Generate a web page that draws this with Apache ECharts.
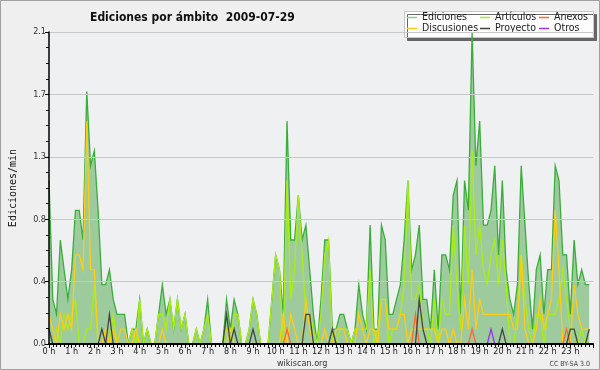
<!DOCTYPE html>
<html><head><meta charset="utf-8">
<script src="https://cdn.jsdelivr.net/npm/echarts@6/dist/echarts.min.js"></script>
<style>html,body{margin:0;padding:0;background:#efefef}#c{width:600px;height:370px}</style>
</head><body><div id="c"></div>
<script>
// one value per 10-minute bucket, 00:00 .. 23:50 (edits per minute)
const ediciones = [1.1,0.3,0.2,0.7,0.5,0.3,0.5,0.9,0.9,0.7,1.7,1.2,1.3,0.9,0.4,0.4,0.5,0.3,0.2,0.2,0.2,0,0.1,0.1,0.3,0,0.1,0,0,0.2,0.4,0.2,0.3,0.1,0.3,0.1,0.2,0,0,0.1,0,0.1,0.3,0,0,0,0,0.3,0.1,0.3,0.2,0,0,0.1,0.3,0.2,0,0,0,0.3,0.6,0.5,0.2,1.5,0.7,0.7,1.0,0.7,0.8,0.5,0.2,0,0.3,0.7,0.7,0.1,0.1,0.2,0.2,0.1,0,0.1,0.4,0.2,0.1,0.8,0.1,0.1,0.8,0.7,0.2,0.2,0.3,0.4,0.7,1.1,0.5,0.6,0.8,0.3,0.3,0.1,0.5,0.1,0.6,0.6,0.5,1.0,1.1,0.2,1.1,0.9,2.1,1.2,1.5,0.8,0.8,0.9,1.2,0.6,1.1,0.5,0.3,0.2,0.4,1.2,0.8,0.4,0.1,0.5,0.6,0.2,0.5,0.5,1.2,1.1,0.6,0.6,0.2,0.7,0.4,0.5,0.4,0.4];
const articulos = [0,0,0.1,0,0.2,0.1,0.2,0.3,0,0,0.1,0.1,0.4,0,0,0,0,0.2,0,0,0,0,0.1,0,0.3,0,0.1,0,0,0.2,0.2,0.1,0.3,0.1,0.3,0.1,0.2,0,0,0.1,0,0.1,0.2,0,0,0,0,0.1,0,0.2,0.2,0,0,0.1,0.3,0.2,0,0,0,0.3,0.6,0.5,0,1.1,0.3,0.5,1.0,0.6,0.2,0.2,0.1,0,0.2,0.6,0.7,0,0,0.1,0.1,0.1,0,0.1,0.1,0.1,0.1,0.5,0,0.1,0.3,0.3,0,0.1,0.1,0.2,0.4,1.1,0.3,0.3,0.4,0.1,0.1,0,0.3,0,0.3,0.2,0.2,0.8,0.4,0.1,0.8,0.4,1.3,0.6,0.8,0.5,0.4,0.6,0.7,0.4,0.7,0.4,0,0,0.2,0.6,0.3,0.1,0,0.2,0.2,0,0.2,0.2,0.2,0.3,0.5,0.3,0.1,0.1,0,0.1,0,0.1];
const anexos = [0,0,0,0,0,0,0,0,0,0,0,0,0,0,0,0,0,0,0,0,0,0,0,0,0,0,0,0,0,0,0,0,0,0,0,0,0,0,0,0,0,0,0,0,0,0,0,0,0,0,0,0,0,0,0,0,0,0,0,0,0,0,0,0.1,0,0,0,0,0,0,0,0,0,0,0,0,0,0,0,0,0,0,0,0,0,0,0,0,0,0,0,0,0,0,0,0,0,0.2,0,0,0,0,0,0,0,0,0,0,0,0,0,0,0.1,0,0,0,0,0,0,0,0,0,0,0,0,0,0,0,0,0,0,0,0,0,0,0,0,0.1,0,0,0,0,0,0];
const discusiones = [0.2,0.1,0,0.2,0.1,0.2,0.1,0.6,0.6,0.5,1.5,0.5,0.5,0,0,0.1,0,0.1,0,0.1,0.1,0,0,0.1,0,0,0,0,0,0,0.1,0,0,0,0,0,0,0,0,0,0,0,0,0,0,0,0,0,0.1,0,0,0,0,0,0,0,0,0,0,0,0,0,0.2,0,0.2,0.1,0,0,0.3,0.1,0,0,0,0.1,0,0,0.1,0.1,0.1,0,0,0,0.2,0.1,0,0.1,0.1,0,0.3,0.3,0.1,0.1,0.1,0.2,0.2,0,0.1,0.1,0.1,0.1,0.1,0.1,0.1,0,0.1,0.1,0,0.1,0,0,0.3,0.1,0.5,0.1,0.3,0.2,0.2,0.2,0.2,0.2,0.2,0.2,0.2,0.1,0.1,0.6,0.1,0,0,0.1,0.3,0.1,0.2,0.3,0.9,0.5,0,0,0,0.4,0.2,0.1,0.1,0.1];
const proyecto = [0.1,0,0,0,0,0,0,0,0,0,0,0,0,0,0.1,0,0.2,0,0,0,0,0,0,0,0,0,0,0,0,0,0,0,0,0,0,0,0,0,0,0,0,0,0,0,0,0,0,0.2,0,0.1,0,0,0,0,0.1,0,0,0,0,0,0,0,0,0,0,0,0,0,0.2,0.2,0,0,0,0,0,0.1,0,0,0,0,0,0,0,0,0,0,0,0,0,0,0,0,0,0,0,0,0,0,0.3,0.1,0,0,0,0,0,0,0,0,0,0,0,0,0,0,0,0,0,0,0,0,0.1,0,0,0,0,0,0,0,0,0,0,0,0,0,0,0,0,0,0.1,0.1,0,0,0,0.1];
const otros = [0,0,0,0,0,0,0,0,0,0,0,0,0,0,0,0,0,0,0,0,0,0,0,0,0,0,0,0,0,0,0,0,0,0,0,0,0,0,0,0,0,0,0,0,0,0,0,0,0,0,0,0,0,0,0,0,0,0,0,0,0,0,0,0,0,0,0,0,0,0,0,0,0,0,0,0,0,0,0,0,0,0,0,0,0,0,0,0,0,0,0,0,0,0,0,0,0,0,0,0,0,0,0,0,0,0,0,0,0,0,0,0,0,0,0,0,0,0.1,0,0,0,0,0,0,0,0,0,0,0,0,0,0,0,0,0,0,0,0,0,0,0,0,0,0];
const yTickLabels = ['0.0','0.4','0.8','1.3','1.7','2.1'];
const hourSuffix = ' h';
const titleText = 'Ediciones por ámbito  2009-07-29';

const STEP = 10; // minutes per bucket
const pairs = arr => arr.map((v, i) => [i * STEP, v]);

const FONT = 'DejaVu Sans Condensed, DejaVu Sans, sans-serif';
const chart = echarts.init(document.getElementById('c'), null, {renderer: 'canvas'});

const lineSeries = (name, data, color, z) => ({
  name, type: 'line', data: pairs(data), symbol: 'none', color,
  lineStyle: {color, width: 1.3, join: 'miter'}, z, animation: false
});

const legendText = {fontFamily: FONT, fontSize: 10.5, color: '#222', lineHeight: 10};
const legendBase = {orient: 'vertical', top: 12, padding: 0, itemGap: 0, itemWidth: 10, itemHeight: 1.5, icon: 'rect', textStyle: legendText};

chart.setOption({
  animation: false,
  backgroundColor: '#efefef',
  title: {text: titleText, left: 85, top: 7,
    textStyle: {fontFamily: FONT, fontSize: 12, fontWeight: 'bold', color: '#111'}},
  grid: {left: 47, right: 7, top: 32, bottom: 26, show: true, backgroundColor: '#eef0f2', borderWidth: 0},
  graphic: [
    {type: 'rect', shape: {x: 0.5, y: 0.5, width: 599, height: 369}, style: {fill: 'none', stroke: '#a0a0a0', lineWidth: 1}, z: 100, silent: true},
    {type: 'rect', shape: {x: 404.5, y: 11.5, width: 189, height: 26}, style: {fill: '#fdfdfd', stroke: '#c8c8c8', lineWidth: 1, shadowColor: '#666', shadowOffsetX: 3, shadowOffsetY: 3, shadowBlur: 0}, z: 1},
    {type: 'text', left: 277, top: 359, style: {text: 'wikiscan.org', font: '9px ' + FONT, fill: '#333'}},
    {type: 'text', right: 10, top: 361, style: {text: 'CC BY-SA 3.0', font: '7px ' + FONT, fill: '#444'}}
  ],
  legend: [
    Object.assign({}, legendBase, {left: 407, data: [{name: 'Ediciones', itemStyle: {color: '#8ccc8c'}}, {name: 'Discusiones'}]}),
    Object.assign({}, legendBase, {left: 480, data: [{name: 'Artículos'}, {name: 'Proyecto'}]}),
    Object.assign({}, legendBase, {left: 539, data: [{name: 'Anexos'}, {name: 'Otros'}]})
  ],
  xAxis: {
    type: 'value', min: 0, max: 1440, interval: 60, z: 10,
    axisLine: {lineStyle: {color: '#000', width: 2}},
    axisTick: {length: 4, lineStyle: {color: '#000'}},
    minorTick: {show: true, splitNumber: 6, length: 3, lineStyle: {color: '#000'}},
    splitLine: {show: false},
    axisLabel: {fontFamily: FONT, fontSize: 9, color: '#222', margin: 3,
      formatter: v => v < 1440 ? (v / 60) + hourSuffix : ''}
  },
  yAxis: {
    type: 'value', min: 0, max: 2.1, interval: 0.42, z: 10,
    name: 'Ediciones/min', nameLocation: 'middle', nameRotate: 90, nameGap: 31,
    nameTextStyle: {fontFamily: 'DejaVu Sans Mono, monospace', fontSize: 10, color: '#111'},
    axisLine: {show: true, lineStyle: {color: '#000', width: 1.5}},
    axisTick: {show: true, length: 4, lineStyle: {color: '#000'}},
    minorTick: {show: true, splitNumber: 4, length: 3, lineStyle: {color: '#000'}},
    splitLine: {show: true, lineStyle: {color: '#c8c8c8', width: 1}},
    axisLabel: {fontFamily: FONT, fontSize: 9, color: '#333', margin: 3,
      formatter: v => yTickLabels[Math.round(v / 0.42)]}
  },
  series: [
    Object.assign(lineSeries('Ediciones', ediciones, '#3aad3a', 2), {areaStyle: {color: '#9ecb9e', opacity: 1}}),
    lineSeries('Artículos', articulos, '#aaee11', 3),
    lineSeries('Anexos', anexos, '#ff6633', 4),
    lineSeries('Discusiones', discusiones, '#ffcc11', 3),
    lineSeries('Proyecto', proyecto, '#444444', 4),
    lineSeries('Otros', otros, '#9933ee', 4)
  ]
});
</script></body></html>
